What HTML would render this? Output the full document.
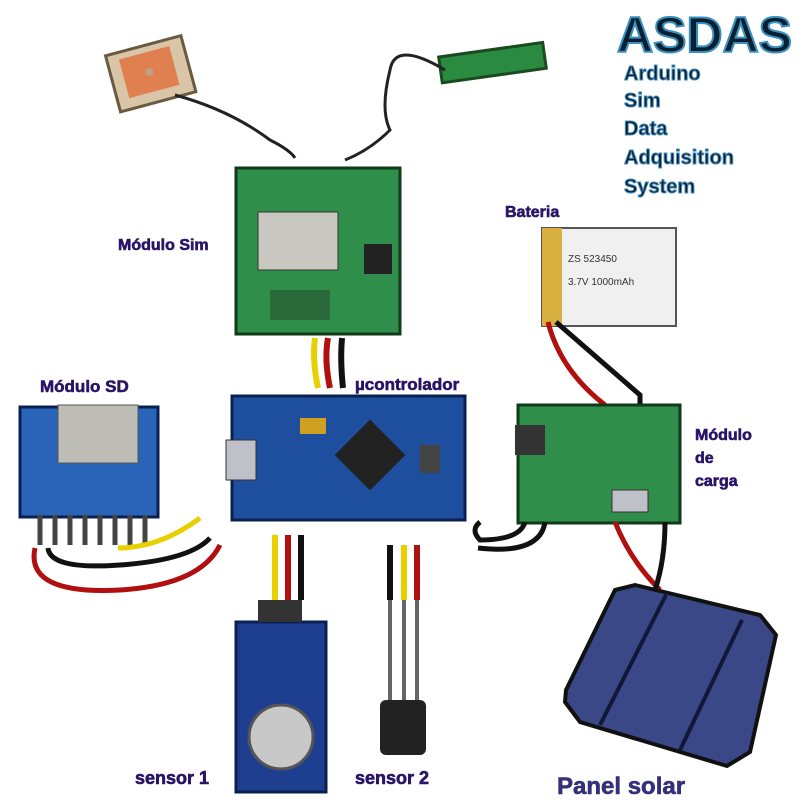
<!DOCTYPE html>
<html><head><meta charset="utf-8"><style>
html,body{margin:0;padding:0;background:#fff}
svg{display:block}
.t{font-family:"Liberation Sans",sans-serif;font-weight:bold}
.lab{font-family:"Liberation Sans",sans-serif;font-weight:bold;fill:#2a1468;stroke:#2a1468;stroke-width:0.6;font-size:16px}
</style></head><body>
<svg width="798" height="811" viewBox="0 0 798 811" xmlns="http://www.w3.org/2000/svg">
<rect width="798" height="811" fill="#fff"/>
<!-- title -->
<text x="617" y="52" class="t" font-size="50" fill="#0a2030" stroke="#3a90c0" stroke-width="2">ASDAS</text>
<g class="t" font-size="20" fill="#0a2030" stroke="#4a90c0" stroke-width="1">
<text x="624" y="80">Arduino</text><text x="624" y="107">Sim</text><text x="624" y="135">Data</text><text x="624" y="164">Adquisition</text><text x="624" y="193">System</text></g>
<!-- GPS antenna -->
<g transform="rotate(-15 150 75)"><rect x="112" y="45" width="78" height="58" fill="#d9c6a8" stroke="#6a5a40" stroke-width="3"/><rect x="124" y="52" width="52" height="40" fill="#e08050"/><circle cx="150" cy="72" r="4" fill="#c0a080"/></g>
<path d="M175 95 Q230 110 270 140 Q290 150 295 158" stroke="#222" stroke-width="3" fill="none"/>
<!-- antenna PCB -->
<g transform="rotate(-8 490 63)"><rect x="440" y="50" width="105" height="26" fill="#2a8a40" stroke="#1a4a20" stroke-width="3"/></g>
<path d="M445 70 Q395 40 390 70 Q380 110 390 130 Q370 150 345 160" stroke="#222" stroke-width="3" fill="none"/>
<!-- SIM module -->
<rect x="236" y="168" width="164" height="166" fill="#2f8f4a" stroke="#103a1a" stroke-width="3"/>
<rect x="258" y="212" width="80" height="58" fill="#c8c8c0" stroke="#333"/>
<rect x="364" y="244" width="28" height="30" fill="#222"/>
<rect x="270" y="290" width="60" height="30" fill="#2a6a3a"/>
<text x="118" y="250" class="lab">Módulo Sim</text>
<!-- wires sim -> mcu -->
<path d="M315 338 Q312 360 318 388" stroke="#e8d000" stroke-width="6" fill="none"/>
<path d="M328 338 Q324 360 330 388" stroke="#b01010" stroke-width="6" fill="none"/>
<path d="M342 338 Q340 360 343 388" stroke="#111" stroke-width="6" fill="none"/>
<text x="355" y="390" class="lab" style="font-size:17px">µcontrolador</text>
<!-- Arduino -->
<rect x="232" y="396" width="233" height="124" fill="#1e4f9f" stroke="#0a2050" stroke-width="3"/>
<rect x="226" y="440" width="30" height="40" fill="#c0c0c8" stroke="#333"/>
<g transform="rotate(45 370 455)"><rect x="345" y="430" width="50" height="50" fill="#222"/></g>
<rect x="300" y="418" width="26" height="16" fill="#d0a020"/>
<rect x="420" y="445" width="20" height="28" fill="#444"/>
<!-- SD module -->
<text x="40" y="392" class="lab" style="font-size:17px">Módulo SD</text>
<rect x="20" y="407" width="138" height="110" fill="#2a64b8" stroke="#0a2050" stroke-width="3"/>
<rect x="58" y="405" width="80" height="58" fill="#bdbdb5" stroke="#555"/>
<g stroke="#444" stroke-width="5"><line x1="40" y1="515" x2="40" y2="545"/><line x1="55" y1="515" x2="55" y2="545"/><line x1="70" y1="515" x2="70" y2="545"/><line x1="85" y1="515" x2="85" y2="545"/><line x1="100" y1="515" x2="100" y2="545"/><line x1="115" y1="515" x2="115" y2="545"/><line x1="130" y1="515" x2="130" y2="545"/><line x1="145" y1="515" x2="145" y2="545"/></g>
<path d="M118 548 Q160 548 200 518" stroke="#e8d000" stroke-width="5" fill="none"/>
<path d="M48 548 Q50 570 120 565 Q190 560 210 538" stroke="#111" stroke-width="5" fill="none"/>
<path d="M35 548 Q25 595 120 590 Q200 585 220 545" stroke="#b01010" stroke-width="5" fill="none"/>
<!-- battery -->
<text x="505" y="217" class="lab">Bateria</text>
<rect x="542" y="228" width="134" height="98" fill="#f0f0f0" stroke="#555" stroke-width="2"/>
<rect x="542" y="228" width="20" height="98" fill="#d8b040"/>
<text x="568" y="262" font-family="Liberation Sans,sans-serif" font-size="10" fill="#333">ZS 523450</text>
<text x="568" y="285" font-family="Liberation Sans,sans-serif" font-size="10" fill="#333">3.7V 1000mAh</text>
<path d="M548 322 Q560 370 605 405" stroke="#b01010" stroke-width="5" fill="none"/>
<path d="M556 322 Q600 360 640 395 L640 405" stroke="#111" stroke-width="5" fill="none"/>
<!-- charge module -->
<rect x="518" y="405" width="162" height="118" fill="#2f8f4a" stroke="#103a1a" stroke-width="3"/>
<rect x="515" y="425" width="30" height="30" fill="#333"/>
<rect x="612" y="490" width="36" height="22" fill="#c0c0c8" stroke="#333"/>
<text x="695" y="440" class="lab">Módulo</text><text x="695" y="463" class="lab">de</text><text x="695" y="486" class="lab">carga</text>
<path d="M525 522 Q520 540 480 540 Q470 530 480 522" stroke="#111" stroke-width="5" fill="none"/>
<path d="M545 522 Q540 555 478 548" stroke="#111" stroke-width="5" fill="none"/>
<path d="M615 522 Q630 560 660 590" stroke="#b01010" stroke-width="5" fill="none"/>
<path d="M665 522 Q665 560 655 590" stroke="#111" stroke-width="5" fill="none"/>
<!-- solar panel -->
<polygon points="615,590 635,585 760,615 776,635 750,752 727,766 580,722 565,702 566,690" fill="#3a4888" stroke="#111" stroke-width="4"/>
<line x1="666" y1="595" x2="600" y2="725" stroke="#101838" stroke-width="4"/>
<line x1="742" y1="620" x2="680" y2="750" stroke="#101838" stroke-width="4"/>
<text x="557" y="794" class="lab" style="font-size:24px;fill:#34307a;stroke:#34307a">Panel solar</text>
<!-- sensor 1 wires -->
<path d="M275 535 L275 600" stroke="#e8d000" stroke-width="6"/>
<path d="M288 535 L288 600" stroke="#b01010" stroke-width="6"/>
<path d="M301 535 L301 600" stroke="#111" stroke-width="6"/>
<rect x="236" y="622" width="90" height="170" fill="#1e3f8f" stroke="#0a2050" stroke-width="3"/>
<rect x="258" y="600" width="44" height="22" fill="#333"/>
<circle cx="281" cy="737" r="32" fill="#c8c8c8" stroke="#555" stroke-width="3"/>
<text x="135" y="784" class="lab" style="font-size:18px">sensor 1</text>
<!-- sensor 2 -->
<path d="M390 545 L390 600" stroke="#111" stroke-width="6"/>
<path d="M404 545 L404 600" stroke="#e8d000" stroke-width="6"/>
<path d="M417 545 L417 600" stroke="#b01010" stroke-width="6"/>
<g stroke="#666" stroke-width="4"><line x1="390" y1="600" x2="390" y2="700"/><line x1="404" y1="600" x2="404" y2="700"/><line x1="417" y1="600" x2="417" y2="700"/></g>
<rect x="380" y="700" width="46" height="55" rx="6" fill="#222"/>
<text x="355" y="784" class="lab" style="font-size:18px">sensor 2</text>
</svg>
</body></html>
